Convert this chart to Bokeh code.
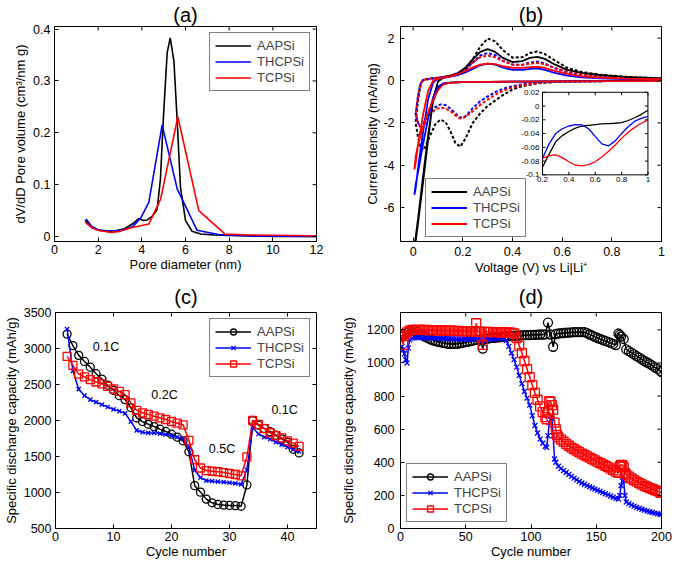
import math
from bokeh.plotting import figure
from bokeh.layouts import column, row
from bokeh.models import Range1d, FixedTicker
from bokeh.embed import file_html
from bokeh.resources import INLINE
from bokeh.core.properties import value

FONT = "Liberation Sans"
BLACK, BLUE, RED = "#000000", "#0000ff", "#ff0000"
NAMES = ["AAPSi", "THCPSi", "TCPSi"]

# ---------------- (a) pore size distribution ----------------
A_BLK_X = [1.4, 1.7, 2.0, 2.4, 2.8, 3.2, 3.6, 3.87, 4.05, 4.25, 4.5, 4.7, 4.85, 4.98, 5.16, 5.3, 5.47, 5.62, 5.77, 6.0, 6.3, 6.7, 7.3, 8.0, 9.0, 10.0, 12.0]
A_BLK_Y = [0.032, 0.018, 0.012, 0.010, 0.011, 0.015, 0.025, 0.035, 0.031, 0.032, 0.040, 0.052, 0.110, 0.223, 0.354, 0.383, 0.338, 0.223, 0.095, 0.031, 0.010, 0.005, 0.003, 0.002, 0.001, 0.0, 0.0]
A_BLU_X = [1.45, 1.7, 2.0, 2.4, 2.8, 3.2, 3.6, 3.94, 4.32, 4.93, 5.62, 6.53, 7.5, 9.0, 12.0]
A_BLU_Y = [0.034, 0.020, 0.013, 0.011, 0.011, 0.013, 0.020, 0.035, 0.066, 0.215, 0.092, 0.012, 0.004, 0.001, 0.0]
A_RED_X = [1.4, 1.7, 2.0, 2.6, 3.0, 3.5, 4.32, 4.86, 5.65, 6.61, 7.8, 9.0, 11.0, 12.0]
A_RED_Y = [0.028, 0.017, 0.012, 0.008, 0.010, 0.017, 0.024, 0.072, 0.231, 0.050, 0.005, 0.003, 0.002, 0.001]

# ---------------- (b) cyclic voltammetry ----------------
V_CAT_S = [1.0, 0.8, 0.6, 0.4, 0.3, 0.2, 0.15, 0.12, 0.10, 0.08, 0.06, 0.04, 0.02, 0.01, 0.005]
V_AN_S = [0.005, 0.01, 0.02, 0.04, 0.06, 0.08, 0.10, 0.12, 0.15, 0.18, 0.21, 0.24, 0.27, 0.30, 0.33, 0.36, 0.40, 0.44, 0.47, 0.50, 0.53, 0.57, 0.62, 0.68, 0.75, 0.85, 1.0]
B_BLK_CAT_S = [-0.03, -0.03, -0.04, -0.05, -0.06, -0.08, -0.10, -0.15, -0.35, -1.0, -2.6, -4.5, -6.5, -7.4, -8.0]
B_BLK_AN_S = [-8.0, -7.6, -6.7, -4.8, -2.8, -0.9, -0.05, 0.12, 0.22, 0.35, 0.6, 1.0, 1.35, 1.48, 1.35, 1.08, 0.87, 0.92, 1.07, 1.12, 1.02, 0.76, 0.5, 0.36, 0.26, 0.17, 0.1]
B_BLU_CAT_S = [-0.03, -0.03, -0.04, -0.05, -0.06, -0.08, -0.10, -0.15, -0.3, -0.8, -1.8, -3.0, -4.3, -4.9, -5.4]
B_BLU_AN_S = [-5.4, -5.1, -4.1, -2.4, -0.9, -0.1, 0.08, 0.13, 0.18, 0.25, 0.38, 0.55, 0.72, 0.8, 0.75, 0.62, 0.5, 0.5, 0.55, 0.57, 0.5, 0.36, 0.23, 0.15, 0.1, 0.07, 0.05]
B_RED_CAT_S = [-0.03, -0.03, -0.04, -0.05, -0.06, -0.08, -0.10, -0.2, -0.45, -0.9, -1.5, -2.2, -3.0, -3.6, -4.2]
B_RED_AN_S = [-4.2, -3.9, -3.0, -1.6, -0.5, 0.0, 0.08, 0.13, 0.2, 0.3, 0.45, 0.62, 0.75, 0.8, 0.77, 0.68, 0.6, 0.6, 0.63, 0.65, 0.6, 0.46, 0.31, 0.2, 0.14, 0.09, 0.06]

V_CAT_D = [1.0, 0.85, 0.75, 0.68, 0.62, 0.57, 0.53, 0.50, 0.47, 0.44, 0.40, 0.36, 0.33, 0.30, 0.27, 0.24, 0.21, 0.19, 0.17, 0.15, 0.13, 0.11, 0.09, 0.07, 0.05, 0.04, 0.03, 0.02, 0.01]
V_AN_D = [0.01, 0.02, 0.03, 0.04, 0.06, 0.08, 0.10, 0.12, 0.15, 0.18, 0.21, 0.24, 0.27, 0.30, 0.33, 0.36, 0.40, 0.44, 0.47, 0.50, 0.53, 0.57, 0.62, 0.68, 0.75, 0.85, 1.0]
B_BLK_CAT_D = [-0.02, -0.02, -0.03, -0.04, -0.05, -0.07, -0.10, -0.14, -0.2, -0.27, -0.42, -0.7, -0.95, -1.2, -1.55, -2.0, -2.75, -3.12, -2.95, -2.4, -1.95, -1.85, -2.05, -2.55, -3.1, -3.3, -3.2, -2.7, -2.0]
B_BLK_AN_D = [-2.0, -0.9, -0.2, 0.02, 0.08, 0.12, 0.14, 0.17, 0.22, 0.32, 0.55, 1.0, 1.6, 1.98, 1.85, 1.45, 1.08, 1.1, 1.3, 1.37, 1.25, 0.95, 0.6, 0.4, 0.28, 0.18, 0.1]
B_BLU_CAT_D = [-0.02, -0.02, -0.03, -0.04, -0.05, -0.06, -0.08, -0.10, -0.13, -0.18, -0.27, -0.4, -0.55, -0.75, -0.98, -1.3, -1.7, -1.75, -1.55, -1.32, -1.16, -1.13, -1.25, -1.5, -1.85, -2.05, -2.2, -2.0, -1.6]
B_BLU_AN_D = [-1.6, -0.7, -0.15, 0.02, 0.06, 0.09, 0.12, 0.15, 0.2, 0.3, 0.5, 0.85, 1.18, 1.3, 1.2, 0.95, 0.75, 0.75, 0.85, 0.89, 0.8, 0.58, 0.38, 0.25, 0.17, 0.11, 0.07]
B_RED_CAT_D = [-0.02, -0.02, -0.03, -0.04, -0.05, -0.07, -0.09, -0.12, -0.16, -0.22, -0.33, -0.5, -0.68, -0.9, -1.15, -1.45, -1.72, -1.8, -1.65, -1.45, -1.32, -1.28, -1.35, -1.6, -2.0, -2.2, -2.25, -2.0, -1.6]
B_RED_AN_D = [-1.6, -0.7, -0.15, 0.02, 0.07, 0.1, 0.13, 0.17, 0.24, 0.35, 0.55, 0.85, 1.1, 1.18, 1.1, 0.92, 0.75, 0.73, 0.8, 0.83, 0.77, 0.6, 0.42, 0.29, 0.2, 0.13, 0.08]

# inset of (b)
V_IN = [0.2, 0.25, 0.3, 0.35, 0.4, 0.45, 0.5, 0.55, 0.6, 0.65, 0.7, 0.75, 0.8, 0.85, 0.9, 0.95, 1.0]
IN_BLK = [-0.089, -0.07, -0.052, -0.043, -0.037, -0.032, -0.029, -0.028, -0.027, -0.026, -0.0255, -0.025, -0.024, -0.021, -0.017, -0.012, -0.006]
IN_BLU = [-0.076, -0.055, -0.04, -0.033, -0.029, -0.027, -0.0275, -0.033, -0.044, -0.055, -0.058, -0.051, -0.04, -0.03, -0.022, -0.018, -0.015]
IN_RED = [-0.076, -0.072, -0.071, -0.075, -0.081, -0.086, -0.087, -0.085, -0.081, -0.074, -0.066, -0.057, -0.047, -0.038, -0.031, -0.025, -0.02]
IN_XTICKS = [0.2, 0.4, 0.6, 0.8, 1.0]
IN_XLABELS = ["0.2", "0.4", "0.6", "0.8", "1"]
IN_YTICKS = [0.02, 0.0, -0.02, -0.04, -0.06, -0.08, -0.1]
IN_YLABELS = ["0.02", "0", "-0.02", "-0.04", "-0.06", "-0.08", "-0.1"]

# ---------------- (c) rate capability ----------------
C_CYC = [2, 3, 4, 5, 6, 7, 8, 9, 10, 11, 12, 13, 14, 15, 16, 17, 18, 19, 20, 21, 22, 23, 24, 25, 26, 27, 28, 29, 30, 31, 32, 33, 34, 35, 36, 37, 38, 39, 40, 41, 42]
C_BLK = [3200, 3040, 2905, 2820, 2740, 2650, 2575, 2490, 2420, 2345, 2290, 2180, 2035, 1985, 1948, 1915, 1880, 1848, 1810, 1768, 1718, 1565, 1095, 1005, 908, 857, 834, 825, 820, 818, 808, 1105, 2000, 1935, 1890, 1845, 1795, 1745, 1700, 1600, 1550]
C_BLU = [3270, 2690, 2435, 2345, 2290, 2255, 2220, 2188, 2155, 2130, 2100, 1985, 1862, 1838, 1828, 1826, 1818, 1805, 1790, 1768, 1744, 1630, 1310, 1206, 1165, 1157, 1150, 1145, 1136, 1127, 1112, 1315, 1905, 1812, 1770, 1740, 1700, 1665, 1630, 1598, 1570]
C_RED = [2890, 2765, 2645, 2605, 2567, 2535, 2510, 2475, 2440, 2405, 2360, 2245, 2140, 2107, 2085, 2060, 2037, 2014, 1986, 1963, 1940, 1725, 1455, 1340, 1305, 1295, 1288, 1277, 1264, 1250, 1232, 1495, 2000, 1946, 1888, 1830, 1790, 1758, 1718, 1685, 1640]
C_RATES = ["0.1C", "0.2C", "0.5C", "0.1C"]

# ---------------- (d) long cycling ----------------
D_BLK_CYC = [1, 3, 5, 7, 9, 11, 13, 15, 17, 19, 21, 23, 25, 27, 29, 31, 33, 35, 37, 39, 41, 43, 45, 47, 49, 51, 53, 55, 57, 59, 61, 63, 65, 67, 69, 71, 73, 75, 77, 79, 81, 83, 85, 87, 89, 91, 93, 95, 97, 99, 101, 103, 105, 107, 109, 111, 113, 115, 117, 119, 121, 123, 125, 127, 129, 131, 133, 135, 137, 139, 141, 143, 145, 147, 149, 151, 153, 155, 157, 159, 161, 163, 165, 167, 168, 169, 171, 173, 175, 177, 179, 181, 183, 185, 187, 189, 191, 193, 195, 197, 199, 200]
D_BLK = [1160, 1172, 1182, 1192, 1198, 1196, 1188, 1178, 1168, 1158, 1150, 1143, 1137, 1132, 1128, 1124, 1121, 1118, 1116, 1115, 1115, 1116, 1118, 1121, 1124, 1127, 1131, 1135, 1138, 1141, 1143, 1087, 1146, 1148, 1150, 1152, 1154, 1155, 1157, 1159, 1160, 1162, 1163, 1164, 1165, 1166, 1167, 1168, 1168, 1169, 1170, 1170, 1171, 1172, 1172, 1173, 1244, 1172, 1098, 1175, 1178, 1180, 1181, 1183, 1184, 1185, 1186, 1186, 1187, 1187, 1186, 1180, 1172, 1165, 1158, 1151, 1145, 1139, 1133, 1127, 1121, 1115, 1108, 1178, 1170, 1160, 1145, 1082, 1072, 1062, 1052, 1042, 1032, 1022, 1012, 1003, 994, 984, 974, 964, 952, 945]
D_BLU_CYC = [1, 2, 3, 4, 5, 6, 7, 9, 11, 13, 15, 17, 19, 21, 23, 25, 27, 29, 31, 33, 35, 37, 39, 41, 43, 45, 47, 49, 51, 53, 55, 57, 59, 61, 63, 65, 67, 69, 71, 73, 75, 77, 79, 81, 83, 85, 87, 89, 91, 93, 95, 97, 99, 101, 103, 105, 107, 109, 111, 112, 113, 114, 115, 116, 117, 118, 119, 121, 123, 125, 127, 129, 131, 133, 135, 137, 139, 141, 143, 145, 147, 149, 151, 153, 155, 157, 159, 161, 163, 165, 167, 168, 169, 170, 171, 172, 173, 175, 177, 179, 181, 183, 185, 187, 189, 191, 193, 195, 197, 199, 200]
D_BLU = [1100, 1080, 1055, 1020, 1000, 1090, 1140, 1150, 1152, 1153, 1153, 1152, 1152, 1151, 1151, 1150, 1150, 1149, 1149, 1148, 1148, 1147, 1147, 1146, 1146, 1146, 1145, 1145, 1145, 1144, 1144, 1144, 1143, 1143, 1135, 1143, 1144, 1145, 1146, 1147, 1148, 1149, 1148, 1135, 1100, 1060, 1020, 975, 925, 875, 828, 788, 745, 682, 622, 577, 541, 515, 497, 490, 560, 640, 680, 665, 560, 420, 400, 376, 362, 350, 338, 326, 315, 304, 294, 284, 275, 267, 259, 252, 245, 238, 231, 224, 217, 210, 203, 196, 189, 182, 178, 200, 260, 310, 290, 200, 160, 150, 142, 135, 128, 122, 116, 111, 106, 101, 97, 93, 89, 86, 85]
D_RED_CYC = [1, 2, 3, 5, 7, 9, 11, 13, 15, 17, 19, 21, 23, 25, 27, 29, 31, 33, 35, 37, 39, 41, 43, 45, 47, 49, 51, 53, 55, 57, 58, 59, 61, 63, 65, 67, 69, 71, 73, 75, 77, 79, 81, 83, 85, 87, 89, 91, 93, 95, 97, 99, 101, 103, 105, 107, 109, 111, 112, 113, 114, 115, 116, 117, 118, 119, 120, 121, 123, 125, 127, 129, 131, 133, 135, 137, 139, 141, 143, 145, 147, 149, 151, 153, 155, 157, 159, 161, 163, 165, 167, 168, 169, 170, 171, 172, 173, 175, 177, 179, 181, 183, 185, 187, 189, 191, 193, 195, 197, 199, 200]
D_RED = [1170, 1110, 1165, 1185, 1195, 1200, 1200, 1200, 1200, 1200, 1200, 1199, 1199, 1198, 1198, 1197, 1197, 1196, 1196, 1195, 1195, 1194, 1194, 1193, 1193, 1192, 1192, 1191, 1191, 1190, 1240, 1190, 1189, 1110, 1188, 1188, 1187, 1187, 1186, 1186, 1185, 1185, 1185, 1184, 1183, 1178, 1150, 1105, 1060, 1012, 963, 915, 866, 820, 778, 738, 703, 673, 660, 700, 770, 765, 745, 718, 640, 600, 565, 550, 537, 524, 511, 500, 489, 479, 470, 461, 452, 444, 436, 428, 419, 411, 403, 395, 387, 379, 371, 362, 353, 344, 336, 375, 385, 382, 372, 335, 325, 313, 302, 292, 283, 274, 266, 258, 251, 244, 238, 232, 226, 219, 215]

# ---------------- layout (pixels) ----------------
LEFT_W, RIGHT_W = 337, 336
TOP_H, BOT_H = 279, 285
FRAME_W_L, FRAME_W_R, FRAME_H = 262, 261, 216


def fmt_axes(p, xr, yr, xticks, xlabels, yticks, ylabels, xlabel, ylabel,
             xstand=(3, 0), ystand=(4, 2), title_off=0, title_standoff=2):
    p.xaxis.ticker = FixedTicker(ticks=xticks)
    p.yaxis.ticker = FixedTicker(ticks=yticks)
    p.xaxis.major_label_overrides = dict(zip(xticks, xlabels))
    p.yaxis.major_label_overrides = dict(zip(yticks, ylabels))
    p.xaxis.axis_label = xlabel
    p.yaxis.axis_label = ylabel
    for ax, st in ((p.xaxis[0], xstand), (p.yaxis[0], ystand)):
        ax.major_tick_in = 4
        ax.major_tick_out = 0
        ax.minor_tick_line_color = None
        ax.axis_line_color = "black"
        ax.major_tick_line_color = "black"
        ax.major_label_text_font = FONT
        ax.major_label_text_font_size = "12.5px"
        ax.major_label_text_color = "black"
        ax.major_label_standoff = st[0]
        ax.axis_label_text_font = FONT
        ax.axis_label_text_font_size = "13px"
        ax.axis_label_text_font_style = "normal"
        ax.axis_label_text_color = "black"
        ax.axis_label_standoff = st[1]
    # box ticks on the top and right edges (inward)
    p.ray(x=xticks, y=[yr[1]] * len(xticks), length=4, length_units="screen",
          angle=-math.pi / 2, line_color="black", line_width=1)
    p.ray(x=[xr[1]] * len(yticks), y=yticks, length=4, length_units="screen",
          angle=math.pi, line_color="black", line_width=1)
    p.grid.visible = False
    p.outline_line_color = "black"
    p.outline_line_width = 1
    p.title.text_font = FONT
    p.title.text_font_size = "20px"
    p.title.text_font_style = "normal"
    p.title.text_color = "black"
    p.title.align = "center"
    p.title.offset = title_off
    p.title.standoff = title_standoff


def fmt_legend(p, loc):
    lg = p.legend[0]
    lg.location = loc
    lg.border_line_color = "black"
    lg.border_line_width = 1.5
    lg.label_text_font = FONT
    lg.label_text_font_size = "13px"
    lg.label_height = 15
    lg.glyph_height = 15
    lg.glyph_width = 36
    lg.spacing = 1
    lg.padding = 5
    lg.margin = 6
    lg.label_standoff = 6


def make_fig(title, xr, yr, w, h, bl, br, bt, bb):
    return figure(title=title, width=w, height=h, x_range=Range1d(*xr), y_range=Range1d(*yr),
                  output_backend="svg", toolbar_location=None, tools="",
                  min_border_left=bl, min_border_right=br, min_border_top=bt, min_border_bottom=bb,
                  background_fill_color="white", border_fill_color="white")


OFF_L = 54 + FRAME_W_L / 2 - LEFT_W / 2
OFF_R = 63 + FRAME_W_R / 2 - RIGHT_W / 2

# ---- (a)
XR_A, YR_A = (0, 12), (-0.0096, 0.405)
pa = make_fig("(a)", XR_A, YR_A, LEFT_W, TOP_H, 54, LEFT_W - 54 - FRAME_W_L, 25, TOP_H - 25 - FRAME_H)
for xs, ys, c, n in ((A_BLK_X, A_BLK_Y, BLACK, NAMES[0]), (A_BLU_X, A_BLU_Y, BLUE, NAMES[1]), (A_RED_X, A_RED_Y, RED, NAMES[2])):
    pa.line(xs, ys, line_color=c, line_width=1.6, legend_label=n)
fmt_axes(pa, XR_A, YR_A, [0, 2, 4, 6, 8, 10, 12], ["0", "2", "4", "6", "8", "10", "12"],
         [0, 0.1, 0.2, 0.3, 0.4], ["0", "0.1", "0.2", "0.3", "0.4"],
         "Pore diameter (nm)", "dV/dD Pore volume (cm\u00b3/nm g)",
         xstand=(3, 0), ystand=(4, 2), title_off=OFF_L, title_standoff=2)
fmt_legend(pa, "top_right")

# ---- (b)
XR_B, YR_B = (-0.051, 1.0), (-7.6, 2.55)
pb = make_fig("(b)", XR_B, YR_B, RIGHT_W, TOP_H, 63, RIGHT_W - 63 - FRAME_W_R, 25, TOP_H - 25 - FRAME_H)
for cat, an, c in ((B_BLK_CAT_D, B_BLK_AN_D, BLACK), (B_BLU_CAT_D, B_BLU_AN_D, BLUE), (B_RED_CAT_D, B_RED_AN_D, RED)):
    pb.line(V_CAT_D + V_AN_D, cat + an, line_color=c, line_width=2, line_dash="3 2")
for cat, an, c, n in ((B_BLK_CAT_S, B_BLK_AN_S, BLACK, NAMES[0]), (B_BLU_CAT_S, B_BLU_AN_S, BLUE, NAMES[1]), (B_RED_CAT_S, B_RED_AN_S, RED, NAMES[2])):
    pb.line(V_CAT_S + V_AN_S, cat + an, line_color=c, line_width=1.8, legend_label=n)
fmt_axes(pb, XR_B, YR_B, [0, 0.2, 0.4, 0.6, 0.8, 1.0], ["0", "0.2", "0.4", "0.6", "0.8", "1"],
         [-6, -4, -2, 0, 2], ["-6", "-4", "-2", "0", "2"],
         "Voltage (V) vs Li|Li\u207a", "Current density (mA/mg)",
         xstand=(5, 1), ystand=(6, 0), title_off=OFF_R, title_standoff=2)
fmt_legend(pb, (25, 4))

# inset drawn through its own ranges placed inside panel (b)
FL, FR, FB, FT = 0.544, 0.948, 0.310, 0.694   # inset box as fractions of the frame
ixs, ixe = IN_XTICKS[0], IN_XTICKS[-1]
iys, iye = IN_YTICKS[-1], IN_YTICKS[0]
sx = (ixe - ixs) / (FR - FL)
sy = (iye - iys) / (FT - FB)
pb.extra_x_ranges = {"ix": Range1d(ixs - FL * sx, ixs - FL * sx + sx)}
pb.extra_y_ranges = {"iy": Range1d(iys - FB * sy, iys - FB * sy + sy)}
pb.quad(left=[ixs], right=[ixe], bottom=[iys], top=[iye], fill_color="white", line_color="black",
        line_width=1, x_range_name="ix", y_range_name="iy")
for ys, c in ((IN_BLK, BLACK), (IN_BLU, BLUE), (IN_RED, RED)):
    pb.line(V_IN, ys, line_color=c, line_width=1.3, x_range_name="ix", y_range_name="iy")
px_x = sx / FRAME_W_R
px_y = sy / FRAME_H
nx, ny = len(IN_XTICKS), len(IN_YTICKS)
pb.ray(x=IN_XTICKS, y=[iys] * nx, length=3, length_units="screen", angle=math.pi / 2,
       line_color="black", line_width=1, x_range_name="ix", y_range_name="iy")
pb.ray(x=IN_XTICKS, y=[iye] * nx, length=3, length_units="screen", angle=-math.pi / 2,
       line_color="black", line_width=1, x_range_name="ix", y_range_name="iy")
pb.ray(x=[ixs] * ny, y=IN_YTICKS, length=3, length_units="screen", angle=0,
       line_color="black", line_width=1, x_range_name="ix", y_range_name="iy")
pb.ray(x=[ixe] * ny, y=IN_YTICKS, length=3, length_units="screen", angle=math.pi,
       line_color="black", line_width=1, x_range_name="ix", y_range_name="iy")
pb.text(x=IN_XTICKS, y=[iys - 2 * px_y] * nx, text=IN_XLABELS, text_font=value(FONT),
        text_font_size="8px", text_align="center", text_baseline="top", text_color="black",
        x_range_name="ix", y_range_name="iy")
pb.text(x=[ixs - 3 * px_x] * ny, y=IN_YTICKS, text=IN_YLABELS, text_font=value(FONT),
        text_font_size="8px", text_align="right", text_baseline="middle", text_color="black",
        x_range_name="ix", y_range_name="iy")

# ---- (c)
BOT_TOP = 312 - TOP_H
XR_C, YR_C = (0, 45), (500, 3500)
pc = make_fig("(c)", XR_C, YR_C, LEFT_W, BOT_H, 54, LEFT_W - 54 - FRAME_W_L, BOT_TOP, BOT_H - BOT_TOP - FRAME_H)
for ys, c, n, mk, sz in ((C_BLK, BLACK, NAMES[0], "circle", 8), (C_BLU, BLUE, NAMES[1], "x", 6), (C_RED, RED, NAMES[2], "square", 8)):
    pc.line(C_CYC, ys, line_color=c, line_width=1.5, legend_label=n)
    pc.scatter(C_CYC, ys, marker=mk, size=sz, line_color=c, fill_alpha=0, line_width=1.3, legend_label=n)
fmt_axes(pc, XR_C, YR_C, [0, 10, 20, 30, 40], ["0", "10", "20", "30", "40"],
         [500, 1000, 1500, 2000, 2500, 3000, 3500], ["500", "1000", "1500", "2000", "2500", "3000", "3500"],
         "Cycle number", "Specific discharge capacity (mAh/g)",
         xstand=(3, 0), ystand=(4, 2), title_off=OFF_L, title_standoff=9)
pc.text(x=[8.7, 18.8, 28.7, 39.5], y=[3020, 2352, 1600, 2149], text=C_RATES, text_font=value(FONT),
        text_font_size="12.5px", text_align="center", text_baseline="middle", text_color="black")
fmt_legend(pc, "top_right")

# ---- (d)
XR_D, YR_D = (0, 200), (0, 1305)
pd_ = make_fig("(d)", XR_D, YR_D, RIGHT_W, BOT_H, 63, RIGHT_W - 63 - FRAME_W_R, BOT_TOP, BOT_H - BOT_TOP - FRAME_H)
for xs, ys, c, n, mk, sz in ((D_BLK_CYC, D_BLK, BLACK, NAMES[0], "circle", 9), (D_BLU_CYC, D_BLU, BLUE, NAMES[1], "x", 7), (D_RED_CYC, D_RED, RED, NAMES[2], "square", 9)):
    pd_.line(xs, ys, line_color=c, line_width=1.5, legend_label=n)
    pd_.scatter(xs, ys, marker=mk, size=sz, line_color=c, fill_alpha=0, line_width=1.3, legend_label=n)
fmt_axes(pd_, XR_D, YR_D, [0, 50, 100, 150, 200], ["0", "50", "100", "150", "200"],
         [0, 200, 400, 600, 800, 1000, 1200], ["0", "200", "400", "600", "800", "1000", "1200"],
         "Cycle number", "Specific discharge capacity (mAh/g)",
         xstand=(3, 0), ystand=(6, 8), title_off=OFF_R, title_standoff=9)
fmt_legend(pd_, "bottom_left")

layout = column(row(pa, pb, spacing=0), row(pc, pd_, spacing=0), spacing=0)
open("out.html", "w").write(file_html(layout, INLINE))
